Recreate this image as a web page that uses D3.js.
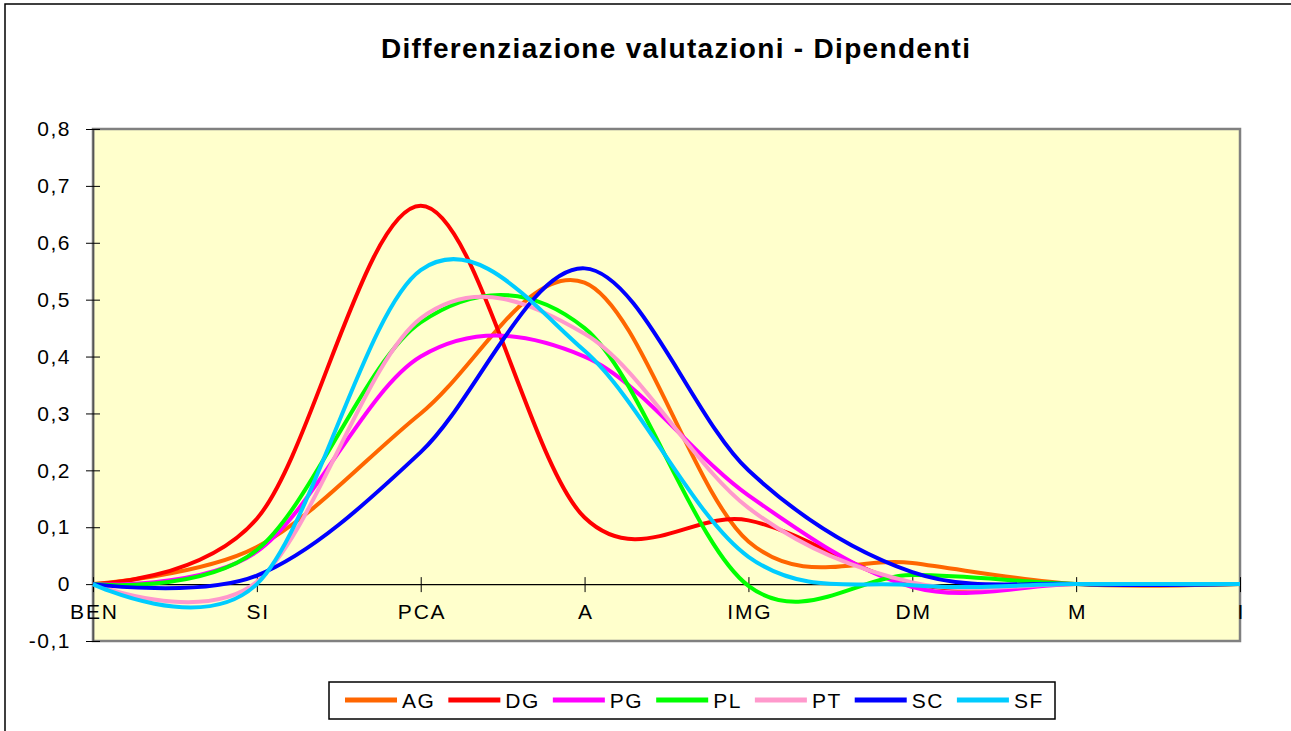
<!DOCTYPE html>
<html>
<head>
<meta charset="utf-8">
<script src="https://cdn.jsdelivr.net/npm/d3@7"></script>
<style>
  body { margin: 0; background: #fff; }
  text { font-family: "Liberation Sans", Arial, sans-serif; fill: #000; }
</style>
</head>
<body>
<div class="chart-container"></div>
<script>
//! DATA
const categories = ['BEN', 'SI', 'PCA', 'A', 'IMG', 'DM', 'M', 'I'];
const yTicks = [-0.1, 0, 0.1, 0.2, 0.3, 0.4, 0.5, 0.6, 0.7, 0.8];
const seriesNames = ['AG', 'DG', 'PG', 'PL', 'PT', 'SC', 'SF'];
const seriesColors = ['#ff6600', '#ff0000', '#ff00ff', '#00ff00', '#ff99cc', '#0000ff', '#00ccff'];

const AG = [0, 0.065, 0.30, 0.53, 0.075, 0.037, 0, 0];
const DG = [0, 0.115, 0.665, 0.117, 0.112, 0.0, 0, 0];
const PG = [0, 0.057, 0.40, 0.40, 0.156, -0.005, 0, 0];
const PL = [0, 0.06, 0.46, 0.45, -0.003, 0.016, 0, 0];
const PT = [0, 0.004, 0.467, 0.44, 0.134, 0.003, 0, 0];
const SC = [0, 0.015, 0.232, 0.555, 0.2, 0.021, 0, 0];
const SF = [0, 0.0, 0.552, 0.41, 0.048, -0.002, 0, 0];
const seriesValues = [AG, DG, PG, PL, PT, SC, SF];

//! CONSTS
const width = 1291;
const height = 731;
const plot = { left: 93, right: 1240, top: 129, bottom: 641 };

const svg = d3.select('.chart-container')
  .append('svg')
  .attr('width', width)
  .attr('height', height);

// chart area border (runs off the picture on right / bottom)
svg.append('rect')
  .attr('x', 5).attr('y', 4)
  .attr('width', width + 20).attr('height', height + 20)
  .attr('fill', '#fff')
  .attr('stroke', '#000')
  .attr('stroke-width', 1.5);

//! TITLE
svg.append('text')
  .attr('x', 675.5)
  .attr('y', 58)
  .attr('text-anchor', 'middle')
  .attr('font-size', 28)
  .attr('font-weight', 'bold')
  .attr('textLength', 589)
  .attr('lengthAdjust', 'spacing')
  .text('Differenziazione valutazioni - Dipendenti');

//! SCALES
const xScale = d3.scalePoint()
  .domain(categories)
  .range([plot.left, plot.right]);

const yScale = d3.scaleLinear()
  .domain([-0.1, 0.8])
  .range([plot.bottom, plot.top]);

//! PLOT AREA
svg.append('rect')
  .attr('x', plot.left).attr('y', plot.top)
  .attr('width', plot.right - plot.left)
  .attr('height', plot.bottom - plot.top)
  .attr('fill', '#ffffcc')
  .attr('stroke', '#808080')
  .attr('stroke-width', 2.5);

//! AXIS
const fmt = (d) => d === 0 ? '0' : d3.format('.1f')(d).replace('.', ',').replace('\u2212', '-');

const yAxis = d3.axisLeft(yScale)
  .tickValues(yTicks)
  .tickFormat(fmt)
  .tickSizeOuter(0);

const mainYaxis = svg.append('g')
  .attr('transform', `translate(${plot.left},0)`)
  .call(yAxis);
mainYaxis.select('.domain').attr('stroke', '#555').attr('stroke-width', 1.5);
mainYaxis.selectAll('.tick line').attr('x1', 7).attr('x2', -7).attr('stroke', '#000');
mainYaxis.selectAll('.tick text')
  .attr('x', -22)
  .attr('font-size', 21)
  .attr('letter-spacing', 1.5)
  .attr('font-family', '"Liberation Sans", Arial, sans-serif');

const xAxis = d3.axisBottom(xScale).tickSizeOuter(0);

const mainXaxis = svg.append('g')
  .attr('transform', `translate(0,${yScale(0)})`)
  .call(xAxis);
mainXaxis.select('.domain').attr('stroke', '#000').attr('stroke-width', 1.2);
mainXaxis.selectAll('.tick line').attr('y1', -7).attr('y2', 8).attr('stroke', '#000');
mainXaxis.selectAll('.tick text')
  .attr('y', 20)
  .attr('font-size', 21)
  .attr('letter-spacing', 1.8)
  .attr('dx', 0.9)
  .attr('font-family', '"Liberation Sans", Arial, sans-serif');

//! LINES
const line = d3.line()
  .x((d, i) => xScale(categories[i]))
  .y((d) => yScale(d))
  .curve(d3.curveCardinal.tension(0));

svg.append('g')
  .selectAll('path')
  .data(seriesValues)
  .enter()
  .append('path')
  .attr('d', (d) => line(d))
  .attr('fill', 'none')
  .attr('stroke', (d, i) => seriesColors[i])
  .attr('stroke-width', 4)
  .attr('stroke-linejoin', 'round');

//! LEGEND
svg.append('rect')
  .attr('x', 329).attr('y', 682)
  .attr('width', 726).attr('height', 37)
  .attr('fill', '#fff')
  .attr('stroke', '#000')
  .attr('stroke-width', 1.5);

const legend = svg.append('g');
let lx = 345;
seriesNames.forEach((name, i) => {
  legend.append('line')
    .attr('x1', lx).attr('x2', lx + 52)
    .attr('y1', 700).attr('y2', 700)
    .attr('stroke', seriesColors[i])
    .attr('stroke-width', 5);
  const t = legend.append('text')
    .attr('x', lx + 57)
    .attr('y', 708)
    .attr('font-size', 21)
    .attr('letter-spacing', 1.5)
    .text(name);
  lx += 57 + t.node().getComputedTextLength() + 13;
});
</script>
</body>
</html>
